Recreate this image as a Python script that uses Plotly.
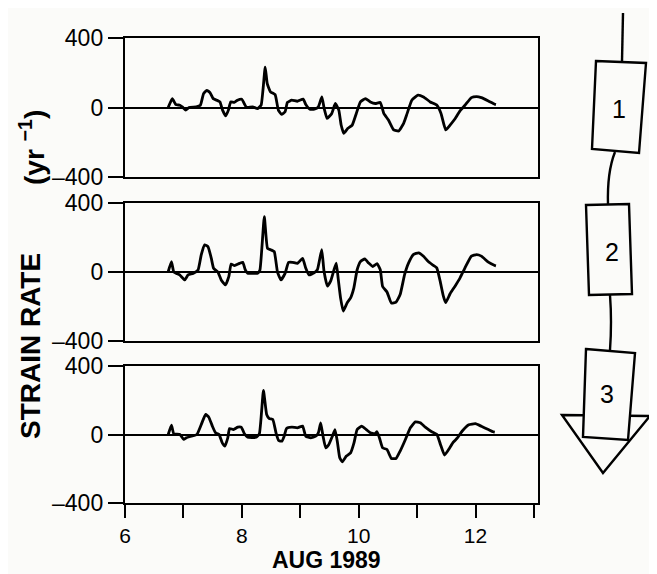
import plotly.graph_objects as go

# ---------------- data ----------------
t1 = [6.74, 6.755, 6.81, 6.87, 6.94, 6.98, 7.04, 7.095, 7.22, 7.29, 7.345, 7.4, 7.455, 7.51, 7.57, 7.625,
      7.67, 7.725, 7.77, 7.81, 7.87, 7.925, 8.0, 8.04, 8.08, 8.185, 8.27, 8.33, 8.4, 8.435, 8.49, 8.57,
      8.625, 8.68, 8.74, 8.78, 8.855, 8.95, 9.05, 9.095, 9.165, 9.24, 9.31, 9.37, 9.41, 9.46, 9.54, 9.6,
      9.66, 9.7, 9.745, 9.815, 9.89, 9.96, 10.03, 10.115, 10.2, 10.285, 10.37, 10.43, 10.51, 10.6, 10.685,
      10.77, 10.83, 10.91, 11.015, 11.11, 11.225, 11.34, 11.41, 11.49, 11.565, 11.65, 11.735, 11.82, 11.93,
      12.02, 12.1, 12.22, 12.33, 12.35]
s1 = [0, 13, 51, 17, 13, 4, -15, 0, 4, 13, 80, 99, 86, 51, 42, 32,
      -15, -48, -15, 32, 29, 42, 48, 23, 0, 4, -6, 13, 232, 137, 90, 74,
      -15, -40, -25, 29, 42, 36, 48, 17, -10, -10, 4, 61, -6, -63, -34, 23,
      -15, -101, -149, -120, -101, -34, 32, 51, 32, 23, 29, -34, -72, -129, -135,
      -91, -34, 42, 71, 61, 32, 13, -34, -129, -101, -65, -19, 13, 57,
      63, 57, 38, 19, 17]

t2 = [6.738, 6.795, 6.835, 6.88, 6.937, 7.022, 7.08, 7.165, 7.25, 7.305, 7.363, 7.42, 7.477, 7.516, 7.59,
      7.647, 7.72, 7.777, 7.817, 7.874, 7.959, 8.016, 8.06, 8.1, 8.186, 8.27, 8.31, 8.385, 8.44, 8.5, 8.555,
      8.61, 8.67, 8.74, 8.8, 8.867, 8.953, 9.04, 9.095, 9.15, 9.237, 9.293, 9.368, 9.407, 9.464, 9.52, 9.578,
      9.617, 9.65, 9.69, 9.736, 9.804, 9.862, 9.918, 9.974, 10.03, 10.105, 10.17, 10.24, 10.315, 10.37,
      10.41, 10.485, 10.56, 10.64, 10.71, 10.787, 10.855, 10.94, 11.025, 11.11, 11.196, 11.28, 11.337,
      11.395, 11.45, 11.49, 11.565, 11.65, 11.736, 11.82, 11.93, 12.02, 12.1, 12.22, 12.33, 12.35]
s2 = [0, 60, 0, -8, -17, -46, -17, -8, 11, 99, 157, 147, 80, 22, 0,
      -46, -75, -27, 46, 37, 50, 56, 12, -8, -8, -8, 12, 321, 137, 128, 118,
      0, -46, -8, 56, 56, 50, 79, 22, -17, -5, 13, 130, 4, -82, -53, 13,
      52, -40, -150, -227, -178, -150, -92, 13, 60, 76, 52, 32, 48, 13,
      -84, -116, -180, -174, -131, -14, 53, 102, 111, 91, 59, 38, 24,
      -53, -140, -178, -126, -82, -34, 24, 92, 101, 92, 57, 38, 36]

t3 = [6.74, 6.795, 6.835, 6.94, 7.005, 7.05, 7.135, 7.23, 7.305, 7.38, 7.435, 7.495, 7.55, 7.61, 7.665,
      7.71, 7.76, 7.79, 7.857, 7.93, 7.99, 8.045, 8.1, 8.244, 8.3, 8.37, 8.425, 8.47, 8.53, 8.585, 8.63,
      8.685, 8.725, 8.765, 8.857, 8.95, 9.04, 9.095, 9.18, 9.265, 9.31, 9.35, 9.39, 9.436, 9.49, 9.55,
      9.595, 9.634, 9.676, 9.72, 9.79, 9.862, 9.92, 9.974, 10.05, 10.13, 10.2, 10.276, 10.315, 10.355,
      10.41, 10.485, 10.56, 10.64, 10.71, 10.8, 10.885, 10.97, 11.055, 11.14, 11.25, 11.34, 11.4, 11.47,
      11.54, 11.62, 11.69, 11.77, 11.885, 12.0, 12.1, 12.22, 12.3, 12.33]
s3 = [0, 55, 4, 0, -29, -19, -10, 0, 58, 117, 101, 49, 10, 0, -49,
      -68, -19, 35, 29, 43, 43, 4, -16, -16, 4, 257, 117, 93, 88, 10, -35,
      -39, -10, 35, 43, 39, 49, -10, -19, -10, 10, 68, -10, -78, -58, -10,
      29, -39, -136, -160, -126, -107, -49, 29, 49, 29, 10, 4, 16, -19,
      -78, -88, -140, -140, -97, -29, 39, 74, 68, 43, 16, 0, -58, -120,
      -88, -45, -20, 19, 57, 63, 48, 29, 16, 14]

y_ticks = [-400, 0, 400]
y_tick_text = ["\u2013400", "0", "400"]
x_major_ticks = [6, 8, 10, 12]
x_minor_ticks = [7, 9, 11, 13]
string_labels = ["1", "2", "3"]

# ---------------- layout geometry (page pixel coordinates) ----------------
W, H = 657, 574
OFF = 8                     # page body margin offset
L_PAGE, R_PAGE, T_PAGE, B_PAGE = 125, 538, 38, 503
ML = L_PAGE - OFF
MT = T_PAGE - OFF
MR = W - (R_PAGE - OFF)
MB = H - (B_PAGE - OFF)
PW, PH = R_PAGE - L_PAGE, B_PAGE - T_PAGE


def px(x):
    return (x - L_PAGE) / PW


def py(y):
    return (B_PAGE - y) / PH


def path(pts, close=True):
    s = "M " + " L ".join(f"{px(a):.5f},{py(b):.5f}" for a, b in pts)
    return s + (" Z" if close else "")


FONT = "Liberation Sans, Arial, Helvetica, sans-serif"
BG = "#fbfbf9"
domains = [[py(177), py(38)], [py(341), py(203)], [py(503), py(366)]]

fig = go.Figure()
for i, (t, s) in enumerate([(t1, s1), (t2, s2), (t3, s3)], start=1):
    fig.add_trace(go.Scatter(x=t, y=s, mode="lines", xaxis=f"x{i}", yaxis=f"y{i}",
                             line=dict(color="black", width=2.8, shape="spline", smoothing=0.4),
                             showlegend=False, hoverinfo="skip"))

layout = dict(width=W, height=H, margin=dict(l=ML, r=MR, t=MT, b=MB),
              paper_bgcolor=BG, plot_bgcolor=BG, showlegend=False)

for i in range(1, 4):
    key = "" if i == 1 else str(i)
    xa = dict(domain=[0, 1], anchor=f"y{i}", range=[6, 13.07], showgrid=False, zeroline=False,
              showline=True, mirror=True, linecolor="black", linewidth=2.4,
              tickfont=dict(family=FONT, size=21, color="black"))
    if i == 3:
        xa.update(ticks="outside", ticklen=13, tickwidth=2.4, tickcolor="black",
                  tickvals=x_major_ticks, ticktext=[str(v) for v in x_major_ticks],
                  showticklabels=True,
                  minor=dict(tickvals=x_minor_ticks, ticks="outside", ticklen=13,
                             tickwidth=2.4, tickcolor="black", showgrid=False))
    else:
        xa.update(ticks="", showticklabels=False, matches="x3")
    ya = dict(domain=domains[i - 1], anchor=f"x{i}", range=[-400, 400], showgrid=False,
              zeroline=True, zerolinecolor="black", zerolinewidth=2.2,
              showline=True, mirror=True, linecolor="black", linewidth=2.4,
              ticks="outside", ticklen=15, tickwidth=2.2, tickcolor="black",
              tickvals=y_ticks, ticktext=y_tick_text,
              tickfont=dict(family=FONT, size=23, color="black"))
    layout["xaxis" + key] = xa
    layout["yaxis" + key] = ya

fig.update_layout(**layout)

# ---------------- instrument string drawing ----------------
LW = dict(color="black", width=2.4)
shapes = [
    dict(type="path", path=path([(623, 13), (622, 61)], close=False), line=LW),
    dict(type="path", path=f"M {px(615):.5f},{py(152):.5f} Q {px(607):.5f},{py(172):.5f} {px(608):.5f},{py(205):.5f}", line=LW),
    dict(type="path", path=f"M {px(610):.5f},{py(295):.5f} Q {px(612):.5f},{py(322):.5f} {px(610):.5f},{py(350):.5f}", line=LW),
    dict(type="path", path=path([(596, 61), (646, 63), (639, 153), (592, 149)]), line=LW, fillcolor=BG),
    dict(type="path", path=path([(586, 205), (629, 204), (632, 294), (589, 295)]), line=LW, fillcolor=BG),
    dict(type="path", path=path([(562, 415), (650, 416), (603, 473)]), line=LW, fillcolor=BG),
    dict(type="path", path=path([(586, 349), (635, 353), (628, 440), (583, 437)]), line=LW, fillcolor=BG),
]
for sh in shapes:
    sh.update(xref="paper", yref="paper", layer="above")
fig.update_layout(shapes=shapes)

annotations = []
for lab, (lx, ly) in zip(string_labels, [(619, 109), (612, 252), (607, 394)]):
    annotations.append(dict(text=lab, x=px(lx), y=py(ly), xref="paper", yref="paper",
                            showarrow=False, xanchor="center", yanchor="middle",
                            font=dict(family=FONT, size=25, color="black")))
annotations.append(dict(text="<b>STRAIN RATE</b>", x=px(30), y=py(346), xref="paper", yref="paper",
                        showarrow=False, textangle=-90, xanchor="center", yanchor="middle",
                        font=dict(family=FONT, size=28, color="black")))
annotations.append(dict(text="<b>(yr <sup>\u22121</sup>)</b>", x=px(32), y=py(148), xref="paper", yref="paper",
                        showarrow=False, textangle=-90, xanchor="center", yanchor="middle",
                        font=dict(family=FONT, size=28, color="black")))
annotations.append(dict(text="<b>AUG 1989</b>", x=px(326), y=py(574), xref="paper", yref="paper",
                        showarrow=False, xanchor="center", yanchor="bottom", borderpad=0,
                        font=dict(family=FONT, size=23, color="black")))
fig.update_layout(annotations=annotations)

fig.write_html("out.html")
